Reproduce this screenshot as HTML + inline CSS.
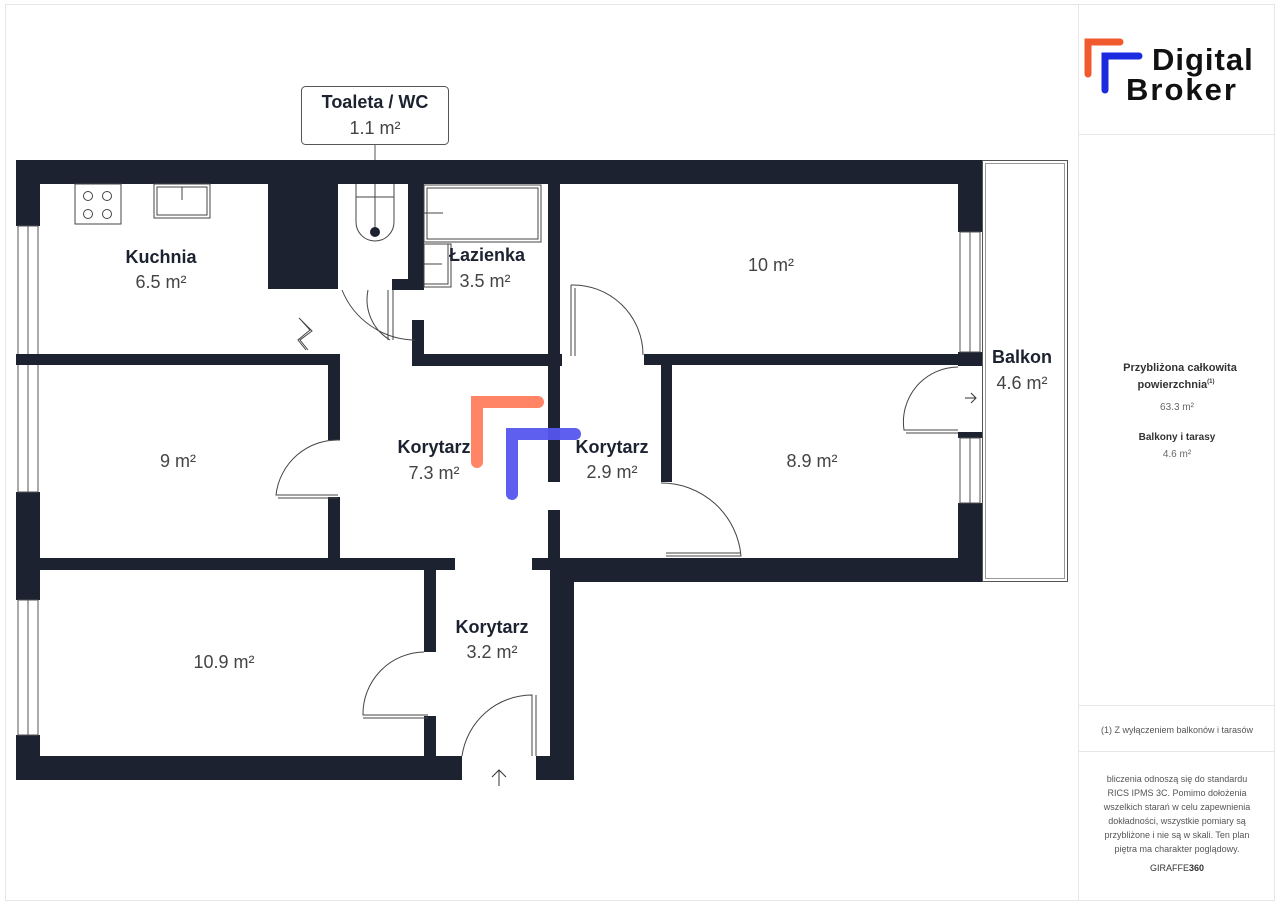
<!DOCTYPE html>
<html><head><meta charset="utf-8"><style>
html,body{margin:0;padding:0;background:#fff;}
svg{display:block;font-family:"Liberation Sans","DejaVu Sans",sans-serif;}
</style></head><body>
<svg width="1280" height="905" viewBox="0 0 1280 905" xmlns="http://www.w3.org/2000/svg">
<rect x="0" y="0" width="1280" height="905" fill="#fff"/>
<rect x="5.5" y="4.5" width="1269" height="896" fill="none" stroke="#e6e6e6"/>
<line x1="1078.5" y1="5" x2="1078.5" y2="900" stroke="#e6e6e6"/>
<line x1="1079" y1="134.5" x2="1275" y2="134.5" stroke="#e6e6e6"/>
<line x1="1079" y1="705.5" x2="1275" y2="705.5" stroke="#e6e6e6"/>
<line x1="1079" y1="751.5" x2="1275" y2="751.5" stroke="#e6e6e6"/>

<!-- logo -->
<path d="M1088 74 V42 H1120" fill="none" stroke="#f05a2c" stroke-width="7" stroke-linecap="round"/>
<path d="M1105 90 V56 H1139" fill="none" stroke="#1c2ae0" stroke-width="7" stroke-linecap="round"/>
<text x="1152" y="70" font-size="31" font-weight="bold" fill="#111" letter-spacing="1">Digital</text>
<text x="1126" y="100" font-size="31" font-weight="bold" fill="#111" letter-spacing="2">Broker</text>

<g fill="#1c2230">
<rect x="16" y="160" width="966" height="24"/>
<rect x="16" y="160" width="24" height="66"/>
<rect x="16" y="492" width="24" height="108"/>
<rect x="16" y="735" width="24" height="45"/>
<rect x="16" y="756" width="446" height="24"/>
<rect x="536" y="756" width="38" height="24"/>
<rect x="550" y="558" width="24" height="222"/>
<rect x="958" y="160" width="24" height="72"/>
<rect x="958" y="352" width="24" height="14"/>
<rect x="958" y="432" width="24" height="6"/>
<rect x="958" y="503" width="24" height="79"/>
<rect x="550" y="558" width="432" height="24"/>
<rect x="16" y="354" width="322" height="11"/>
<rect x="328" y="354" width="12" height="86"/>
<rect x="328" y="497" width="12" height="73"/>
<rect x="16" y="558" width="439" height="12"/>
<rect x="532" y="558" width="30" height="12"/>
<rect x="424" y="558" width="12" height="94"/>
<rect x="424" y="716" width="12" height="50"/>
<rect x="268" y="184" width="70" height="105"/>
<rect x="408" y="184" width="16" height="106"/>
<rect x="392" y="279" width="32" height="11"/>
<rect x="412" y="320" width="12" height="46"/>
<rect x="412" y="354" width="150" height="12"/>
<rect x="548" y="184" width="12" height="298"/>
<rect x="548" y="510" width="12" height="60"/>
<rect x="644" y="354" width="338" height="11"/>
<rect x="661" y="365" width="11" height="117"/>
</g>

<!-- windows -->
<g fill="#fff" stroke="#555" stroke-width="1">
<rect x="18" y="226" width="20" height="266"/>
<rect x="18" y="600" width="20" height="135"/>
<rect x="960" y="232" width="20" height="120"/>
<rect x="960" y="438" width="20" height="65"/>
</g>
<line x1="28" y1="226" x2="28" y2="492" stroke="#555"/>
<line x1="28" y1="600" x2="28" y2="735" stroke="#555"/>
<line x1="970" y1="232" x2="970" y2="352" stroke="#555"/>
<line x1="970" y1="438" x2="970" y2="503" stroke="#555"/>
<rect x="16" y="354" width="24" height="11" fill="#1c2230"/>

<!-- balcony -->
<rect x="982.5" y="160.5" width="85" height="421" fill="none" stroke="#555"/>
<rect x="985.5" y="163.5" width="79" height="415" fill="none" stroke="#999"/>

<g fill="none" stroke="#444" stroke-width="1">
<rect x="75" y="184" width="46" height="40"/>
<circle cx="88" cy="196" r="4.5"/><circle cx="107" cy="196" r="4.5"/>
<circle cx="88" cy="214" r="4.5"/><circle cx="107" cy="214" r="4.5"/>
<rect x="154" y="184" width="56" height="34"/><rect x="157" y="187" width="50" height="28"/>
<line x1="182" y1="187" x2="182" y2="200"/>
<path d="M356 184 V222 A19 19 0 0 0 394 222 V184"/>
<line x1="356" y1="197" x2="394" y2="197"/><line x1="375" y1="184" x2="375" y2="232"/>
<rect x="424" y="185" width="117" height="57"/><rect x="427" y="188" width="111" height="51"/>
<line x1="424" y1="213" x2="443" y2="213"/>
<rect x="424" y="244" width="27" height="43"/><rect x="424" y="244" width="24" height="40"/>
<line x1="424" y1="264" x2="442" y2="264"/>
<path d="M342 290 A80 80 0 0 0 415 340"/>
<path d="M368 290 A47 47 0 0 0 390 340 M388 290 V340 M393 290 V340"/>
<path d="M301 320 L310 330 L298 340 L306 350 M299 318 L312 331 L300 340 L308 350"/>
<path d="M340 440 A62 62 0 0 0 276 495 H338 M278 498 H338"/>
<path d="M571 285 A70 70 0 0 1 643 355 M571 285 V356 M575 288 V356"/>
<path d="M661 483 A80 80 0 0 1 741 556 H666 M666 553 H741"/>
<path d="M958 367 A55 55 0 0 0 904 430 H958 M906 433 H958"/>
<path d="M424 652 A62 62 0 0 0 363 715 H428 M363 718 H428"/>
<path d="M462 756 A71 71 0 0 1 532 695 V756 M536 695 V756"/>
</g>
<circle cx="375" cy="232" r="5" fill="#1c2230"/>
<path d="M965 398 H976 M971 393 L976 398 L971 403" fill="none" stroke="#333"/>
<path d="M499 786 V770 M492 777 L499 770 L506 777" fill="none" stroke="#333"/>

<path d="M477 462 V402 H538" fill="none" stroke="#ff8566" stroke-width="12" stroke-linecap="round"/>
<path d="M512 494 V434 H575" fill="none" stroke="#5555ee" stroke-width="12" stroke-linecap="round" opacity="0.95"/>

<g text-anchor="middle" fill="#1c2230">
<text x="161" y="263" font-size="18" font-weight="bold">Kuchnia</text>
<text x="161" y="288" font-size="18" fill="#444">6.5 m²</text>
<text x="487" y="261" font-size="18" font-weight="bold">Łazienka</text>
<text x="485" y="287" font-size="18" fill="#444">3.5 m²</text>
<text x="771" y="271" font-size="18" fill="#444">10 m²</text>
<text x="178" y="467" font-size="18" fill="#444">9 m²</text>
<text x="434" y="453" font-size="18" font-weight="bold">Korytarz</text>
<text x="434" y="479" font-size="18" fill="#444">7.3 m²</text>
<text x="612" y="453" font-size="18" font-weight="bold">Korytarz</text>
<text x="612" y="478" font-size="18" fill="#444">2.9 m²</text>
<text x="812" y="467" font-size="18" fill="#444">8.9 m²</text>
<text x="1022" y="363" font-size="18" font-weight="bold">Balkon</text>
<text x="1022" y="389" font-size="18" fill="#444">4.6 m²</text>
<text x="224" y="668" font-size="18" fill="#444">10.9 m²</text>
<text x="492" y="633" font-size="18" font-weight="bold">Korytarz</text>
<text x="492" y="658" font-size="18" fill="#444">3.2 m²</text>
</g>
<rect x="301.5" y="86.5" width="147" height="58" rx="4" fill="#fff" stroke="#555"/>
<line x1="375" y1="145" x2="375" y2="160" stroke="#555"/>
<text x="375" y="108" text-anchor="middle" font-size="18" font-weight="bold" fill="#1c2230">Toaleta / WC</text>
<text x="375" y="134" text-anchor="middle" font-size="18" fill="#444">1.1 m²</text>

<g text-anchor="middle" fill="#333">
<text x="1180" y="371" font-size="11" font-weight="bold">Przybliżona całkowita</text>
<text x="1176" y="388" font-size="11" font-weight="bold">powierzchnia<tspan font-size="6" dy="-5">(1)</tspan></text>
<text x="1177" y="410" font-size="10" fill="#666">63.3 m²</text>
<text x="1177" y="440" font-size="10" font-weight="bold">Balkony i tarasy</text>
<text x="1177" y="457" font-size="10" fill="#666">4.6 m²</text>
<text x="1177" y="733" font-size="9" fill="#555">(1) Z wyłączeniem balkonów i tarasów</text>
<g font-size="9" fill="#555">
<text x="1177" y="782">bliczenia odnoszą się do standardu</text>
<text x="1177" y="796">RICS IPMS 3C. Pomimo dołożenia</text>
<text x="1177" y="810">wszelkich starań w celu zapewnienia</text>
<text x="1177" y="824">dokładności, wszystkie pomiary są</text>
<text x="1177" y="838">przybliżone i nie są w skali. Ten plan</text>
<text x="1177" y="852">piętra ma charakter poglądowy.</text>
</g>
<text x="1177" y="871" font-size="9" fill="#333">GIRAFFE<tspan font-weight="bold">360</tspan></text>
</g>
</svg>
</body></html>
